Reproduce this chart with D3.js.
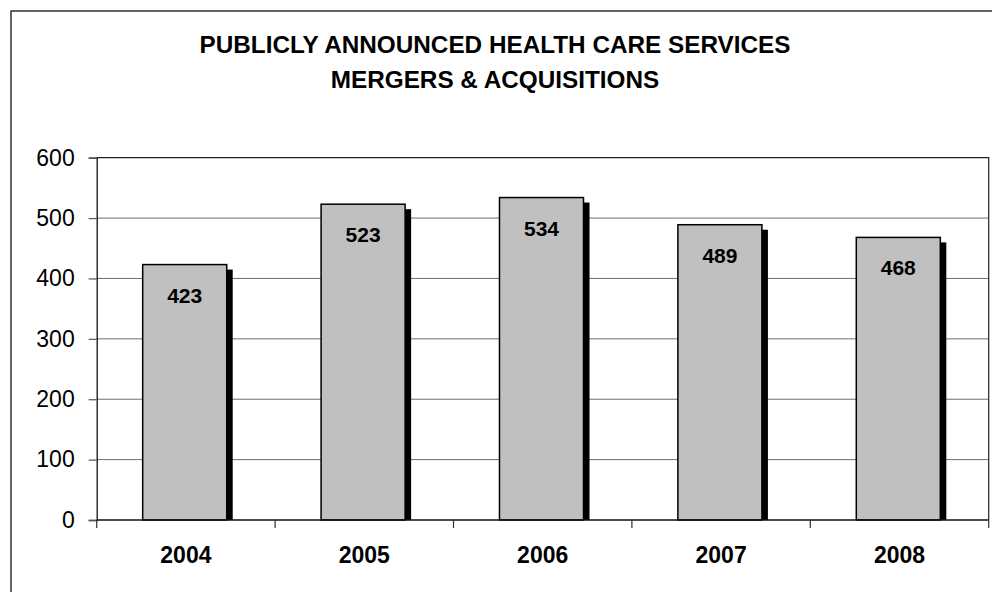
<!DOCTYPE html>
<html>
<head>
<meta charset="utf-8">
<script src="https://cdn.jsdelivr.net/npm/d3@7/dist/d3.min.js"></script>
<style>
  html, body { margin: 0; padding: 0; background: #fff; }
  svg { display: block; }
  text { font-family: "Liberation Sans", Arial, Helvetica, sans-serif; fill: #000; }
</style>
</head>
<body>
<svg id="chart" width="992" height="592"></svg>
<script>
// Publicly announced health care services M&A deals per year
const years = ["2004", "2005", "2006", "2007", "2008"];
const deals = [423, 523, 534, 489, 468];
const yTicks = [0, 100, 200, 300, 400, 500, 600];
const titleLines = ["PUBLICLY ANNOUNCED HEALTH CARE SERVICES", "MERGERS & ACQUISITIONS"];

const svg = d3.select("#chart");
const plot = { left: 96.7, right: 988.7, top: 157.7, bottom: 520 };

// Outer chart frame (runs off the right and bottom edges)
svg.append("rect")
  .attr("x", 11).attr("y", 11)
  .attr("width", 1000).attr("height", 600)
  .attr("fill", "none").attr("stroke", "#333").attr("stroke-width", 1.5);

// Title
svg.append("g").selectAll("text")
  .data(titleLines)
  .join("text")
  .attr("x", 495)
  .attr("y", (d, i) => 53 + i * 35)
  .attr("text-anchor", "middle")
  .attr("font-size", 24.3)
  .attr("font-weight", "bold")
  .text(d => d);

const x = d3.scaleBand()
  .domain(years)
  .range([plot.left, plot.right])
  .paddingInner(0)
  .paddingOuter(0);

const y = d3.scaleLinear()
  .domain([0, 600])
  .range([plot.bottom, plot.top]);

// Horizontal gridlines
svg.append("g")
  .selectAll("line")
  .data(yTicks.filter(t => t > 0 && t < 600))
  .join("line")
  .attr("x1", plot.left).attr("x2", plot.right)
  .attr("y1", d => y(d)).attr("y2", d => y(d))
  .attr("stroke", "#6e6e6e").attr("stroke-width", 1);

// Plot area border (top and right)
svg.append("path")
  .attr("d", `M${plot.left},${y(600)}H${plot.right}V${plot.bottom}`)
  .attr("fill", "none").attr("stroke", "#222").attr("stroke-width", 1.2);

// Y axis
const yAxis = svg.append("g")
  .attr("transform", `translate(${plot.left},0)`)
  .call(d3.axisLeft(y).tickValues(yTicks).tickSize(8).tickPadding(14));
yAxis.select(".domain").attr("stroke", "#111").attr("stroke-width", 1.3);
yAxis.selectAll(".tick line").attr("stroke", "#555").attr("stroke-width", 1.2);
yAxis.selectAll(".tick text")
  .attr("font-size", 23)
  .attr("font-family", "'Liberation Sans', Arial, sans-serif")
  .attr("fill", "#000");

// Bars with a drop shadow
const barW = x.bandwidth() * 0.471;
const shadowOff = 6;
const barX = d => x(d) + x.bandwidth() / 2 - 1.2 - barW / 2;
const bars = svg.append("g");
const rows = years.map((yr, i) => ({ yr, v: deals[i] }));

bars.selectAll("rect.shadow")
  .data(rows)
  .join("rect")
  .attr("class", "shadow")
  .attr("x", d => barX(d.yr) + shadowOff)
  .attr("y", d => y(d.v) + shadowOff - 1)
  .attr("width", barW)
  .attr("height", d => plot.bottom - y(d.v) - shadowOff + 1)
  .attr("fill", "#000");

bars.selectAll("rect.bar")
  .data(rows)
  .join("rect")
  .attr("class", "bar")
  .attr("x", d => barX(d.yr))
  .attr("y", d => y(d.v))
  .attr("width", barW)
  .attr("height", d => plot.bottom - y(d.v))
  .attr("fill", "#c0c0c0")
  .attr("stroke", "#000")
  .attr("stroke-width", 1.5);

// Value labels inside bars
bars.selectAll("text")
  .data(rows)
  .join("text")
  .attr("x", d => barX(d.yr) + barW / 2)
  .attr("y", d => y(d.v) + 38)
  .attr("text-anchor", "middle")
  .attr("font-size", 21)
  .attr("font-weight", "bold")
  .text(d => d.v);

// X axis
const xAxis = svg.append("g")
  .attr("transform", `translate(0,${plot.bottom})`)
  .call(d3.axisBottom(x).tickSize(0).tickPadding(27));
xAxis.select(".domain").remove();
xAxis.selectAll(".tick text")
  .attr("font-size", 23)
  .attr("font-weight", "bold")
  .attr("font-family", "'Liberation Sans', Arial, sans-serif")
  .attr("fill", "#000");

svg.append("line")
  .attr("x1", plot.left).attr("x2", plot.right)
  .attr("y1", plot.bottom).attr("y2", plot.bottom)
  .attr("stroke", "#111").attr("stroke-width", 1.5);

// Category boundary ticks below the axis
svg.append("g")
  .selectAll("line")
  .data(years.map(d => x(d)).concat([plot.right]))
  .join("line")
  .attr("x1", d => d).attr("x2", d => d)
  .attr("y1", plot.bottom).attr("y2", plot.bottom + 8)
  .attr("stroke", "#333").attr("stroke-width", 1.2);
</script>
</body>
</html>
